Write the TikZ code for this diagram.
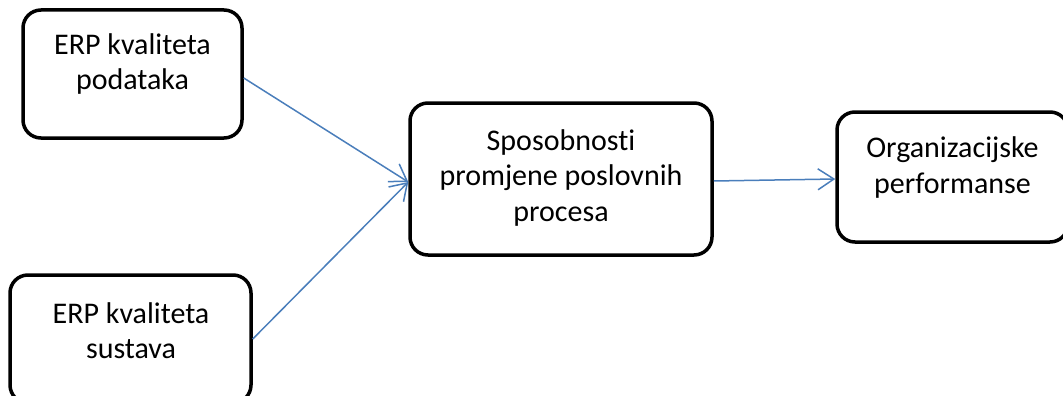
\documentclass[tikz,border=0pt]{standalone}
\usepackage{fontspec}
\setmainfont[Ligatures=NoCommon]{Carlito}
\usetikzlibrary{arrows.meta}
\definecolor{arrowblue}{HTML}{4A7EBB}
\begin{document}
\begin{tikzpicture}[x=1pt,y=-1pt,
  box/.style={draw=black,line width=3.5pt,rounded corners=18pt,rectangle,inner sep=0pt},
  txt/.style={align=center,font=\fontsize{30}{35.5}\selectfont,inner sep=0pt},
  conn/.style={draw=arrowblue,line width=1.5pt,-{Straight Barb[length=16pt,width=21pt]}}]
\useasboundingbox (0,0) rectangle (1063,396);
\clip (0,0) rectangle (1063,396);
\node[box,minimum width=219pt,minimum height=128pt] (b1) at (132.5,74) {};
\node[box,minimum width=241pt,minimum height=128pt] (b2) at (130.5,339) {};
\node[box,minimum width=302pt,minimum height=152pt] (b3) at (561,179) {};
\node[box,minimum width=231pt,minimum height=130pt] (b4) at (952.5,177) {};
\node[txt] (t1) at (132.5,64) {ERP kvaliteta\\podataka};
\node[txt] (t2) at (131,330.5) {ERP kvaliteta\\sustava};
\node[txt] (t3) at (561,178) {Sposobnosti\\promjene poslovnih\\procesa};
\node[txt] (t4) at (952.5,167.5) {Organizacijske\\performanse};
\draw[conn] ([yshift=-4pt]b1.east) -- ([yshift=-3pt]b3.west);
\draw[conn] (b2.east) -- ([yshift=-3pt]b3.west);
\draw[conn] ([yshift=-2pt]b3.east) -- ([yshift=-2pt]b4.west);
\end{tikzpicture}
\end{document}
